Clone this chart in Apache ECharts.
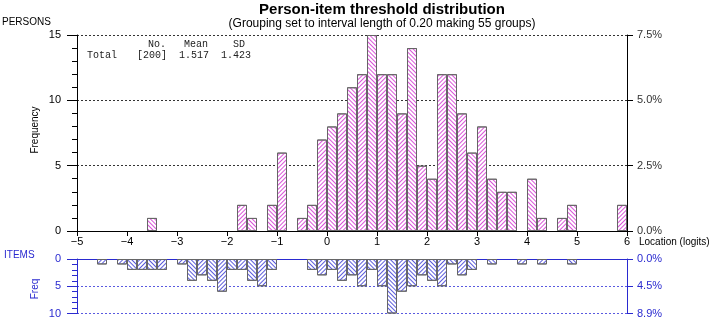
<!DOCTYPE html>
<html>
<head>
<meta charset="utf-8">
<script src="https://cdn.jsdelivr.net/npm/echarts@6/dist/echarts.min.js"></script>
<style>
  html, body { margin: 0; padding: 0; background: #fff; }
  #chart { width: 709px; height: 319px; }
</style>
</head>
<body>
<div id="chart"></div>
<script>
// bins of 0.2 logits from -5 to 6 (55 groups), label = left edge
const bins = [
  '-5.0', '-4.8', '-4.6', '-4.4', '-4.2', '-4.0', '-3.8', '-3.6', '-3.4', '-3.2', '-3.0',
  '-2.8', '-2.6', '-2.4', '-2.2', '-2.0', '-1.8', '-1.6', '-1.4', '-1.2', '-1.0',
  '-0.8', '-0.6', '-0.4', '-0.2', '0.0', '0.2', '0.4', '0.6', '0.8', '1.0',
  '1.2', '1.4', '1.6', '1.8', '2.0', '2.2', '2.4', '2.6', '2.8', '3.0',
  '3.2', '3.4', '3.6', '3.8', '4.0', '4.2', '4.4', '4.6', '4.8', '5.0',
  '5.2', '5.4', '5.6', '5.8'
]
// persons per bin
const persons = [
  0, 0, 0, 0, 0, 0, 0, 1, 0, 0, 0,
  0, 0, 0, 0, 0, 2, 1, 0, 2, 6,
  0, 1, 2, 7, 8, 9, 11, 12, 15, 12,
  12, 9, 14, 5, 4, 12, 12, 9, 6, 8,
  4, 3, 3, 0, 4, 1, 0, 1, 2, 0,
  0, 0, 0, 2
]
// item thresholds per bin
const items = [
  0, 0, 1, 0, 1, 2, 2, 2, 2, 0, 1,
  4, 3, 4, 6, 2, 2, 4, 5, 2, 0,
  0, 0, 2, 3, 2, 4, 3, 5, 2, 5,
  10, 6, 5, 3, 4, 5, 1, 3, 2, 0,
  1, 0, 0, 1, 0, 1, 0, 0, 1, 0,
  0, 0, 0, 0
]
const totalPersons = 200
const totalItems = 112
const statHead = ['No.', 'Mean', 'SD']
const statRow = ['Total', '[200]', '1.517', '1.423']

const BLUE = '#2a2ad0'
const FONT = 'Arial, "Liberation Sans", sans-serif'
const MONO = '10px "Liberation Mono", "Courier New", monospace'

function hatch(color, k) {
  return {
    symbol: 'rect',
    symbolSize: 1,
    color: color,
    dashArrayX: [1, 0],
    dashArrayY: [1, 2],
    rotation: k % 2 ? Math.PI / 4 : -Math.PI / 4,
  }
}
function toBars(arr, color) {
  return arr.map((v, k) => (v ? { value: v, itemStyle: { decal: hatch(color, k) } } : '-'))
}
const minus = (v) => (v < 0 ? '\u2212' + -v : String(v))

var myChart = echarts.init(document.getElementById('chart'))
var option = {
  animation: false,
  textStyle: { fontFamily: FONT },
  title: {
    text: 'Person-item threshold distribution',
    subtext: '(Grouping set to interval length of 0.20 making 55 groups)',
    left: 377,
    textAlign: 'center',
    top: -3,
    itemGap: 1,
    textStyle: { fontSize: 15, fontWeight: 'bold', color: '#000', fontFamily: FONT },
    subtextStyle: { fontSize: 12, color: '#000', fontFamily: FONT },
  },
  grid: [
    { left: 77, right: 82, top: 35, height: 196 },
    { left: 77, right: 82, top: 259, height: 56 },
  ],
  xAxis: [
    { type: 'category', gridIndex: 0, data: bins, show: false },
    {
      type: 'value', gridIndex: 0, min: -5, max: 6, interval: 1, position: 'bottom',
      axisLine: { onZero: false, lineStyle: { color: '#000' } },
      axisTick: { show: true, length: 5, lineStyle: { color: '#000' } },
      axisLabel: { color: '#000', fontSize: 11, margin: 5, formatter: minus },
      splitLine: { show: false },
    },
    { type: 'category', gridIndex: 1, data: bins, show: false },
    {
      type: 'value', gridIndex: 1, min: -5, max: 6, interval: 1, position: 'top',
      axisLine: { onZero: false, lineStyle: { color: BLUE } },
      axisTick: { show: false },
      axisLabel: { show: false },
      splitLine: { show: false },
    },
  ],
  yAxis: [
    {
      type: 'value', gridIndex: 0, min: 0, max: 15, interval: 5, position: 'left',
      axisLine: { show: true, onZero: false, lineStyle: { color: '#000' } },
      axisTick: { show: true, length: 10, lineStyle: { color: '#000' } },
      minorTick: { show: true, splitNumber: 5, length: 5, lineStyle: { color: '#000' } },
      axisLabel: { color: '#000', fontSize: 11, margin: 16 },
      splitLine: { show: true, lineStyle: { color: '#333', type: [2, 2] } },
    },
    {
      type: 'value', gridIndex: 0, min: 0, max: (15 / totalPersons) * 100, interval: 2.5, position: 'right',
      axisLine: { show: true, onZero: false, lineStyle: { color: '#000' } },
      axisTick: { show: true, length: 6, lineStyle: { color: '#000' } },
      axisLabel: { color: '#333', fontSize: 11, margin: 10, formatter: (v) => v.toFixed(1) + '%' },
      splitLine: { show: false },
    },
    {
      type: 'value', gridIndex: 1, min: 0, max: 10, interval: 5, inverse: true, position: 'left',
      axisLine: { show: true, onZero: false, lineStyle: { color: BLUE } },
      axisTick: { show: true, length: 10, lineStyle: { color: BLUE } },
      minorTick: { show: true, splitNumber: 5, length: 5, lineStyle: { color: BLUE } },
      axisLabel: { color: BLUE, fontSize: 11, margin: 16 },
      splitLine: { show: true, lineStyle: { color: '#5a5ae0', type: [2, 2] } },
    },
    {
      type: 'value', gridIndex: 1, min: 0, max: 10, interval: 5, inverse: true, position: 'right',
      axisLine: { show: true, onZero: false, lineStyle: { color: BLUE } },
      axisTick: { show: true, length: 6, lineStyle: { color: BLUE } },
      axisLabel: { color: BLUE, fontSize: 11, margin: 10, formatter: (v) => ((v / totalItems) * 100).toFixed(1) + '%' },
      splitLine: { show: false },
    },
  ],
  series: [
    {
      name: 'Persons', type: 'bar', xAxisIndex: 0, yAxisIndex: 0,
      barWidth: '100%', barCategoryGap: '0%',
      itemStyle: { color: '#fff', borderColor: '#666', borderWidth: 1 },
      data: toBars(persons, '#d955d9'),
    },
    {
      name: 'Items', type: 'bar', xAxisIndex: 2, yAxisIndex: 2,
      barWidth: '100%', barCategoryGap: '0%',
      itemStyle: { color: '#fff', borderColor: '#666', borderWidth: 1 },
      data: toBars(items, '#5c5cdc'),
    },
  ],
  graphic: [
    { type: 'text', x: 2, y: 22, style: { text: 'PERSONS', font: '10px ' + FONT, fill: '#000', verticalAlign: 'middle' } },
    { type: 'text', x: 35, y: 130, rotation: Math.PI / 2, style: { text: 'Frequency', font: '10px ' + FONT, fill: '#000', align: 'center', verticalAlign: 'middle' } },
    { type: 'text', x: 639, y: 242, style: { text: 'Location (logits)', font: '10px ' + FONT, fill: '#000', verticalAlign: 'middle' } },
    { type: 'text', x: 4, y: 255, style: { text: 'ITEMS', font: '10px ' + FONT, fill: BLUE, verticalAlign: 'middle' } },
    { type: 'text', x: 35, y: 289, rotation: Math.PI / 2, style: { text: 'Freq', font: '10px ' + FONT, fill: BLUE, align: 'center', verticalAlign: 'middle' } },
    { type: 'text', x: 148, y: 44, style: { text: statHead[0], font: MONO, fill: '#222', verticalAlign: 'middle' } },
    { type: 'text', x: 184, y: 44, style: { text: statHead[1], font: MONO, fill: '#222', verticalAlign: 'middle' } },
    { type: 'text', x: 233, y: 44, style: { text: statHead[2], font: MONO, fill: '#222', verticalAlign: 'middle' } },
    { type: 'text', x: 87, y: 55, style: { text: statRow[0], font: MONO, fill: '#222', verticalAlign: 'middle' } },
    { type: 'text', x: 137, y: 55, style: { text: statRow[1], font: MONO, fill: '#222', verticalAlign: 'middle' } },
    { type: 'text', x: 179, y: 55, style: { text: statRow[2], font: MONO, fill: '#222', verticalAlign: 'middle' } },
    { type: 'text', x: 221, y: 55, style: { text: statRow[3], font: MONO, fill: '#222', verticalAlign: 'middle' } },
  ],
}

option && myChart.setOption(option)
// 图表自适应宽度
window.addEventListener('resize', function () {
  myChart.resize()
})
</script>
</body>
</html>
